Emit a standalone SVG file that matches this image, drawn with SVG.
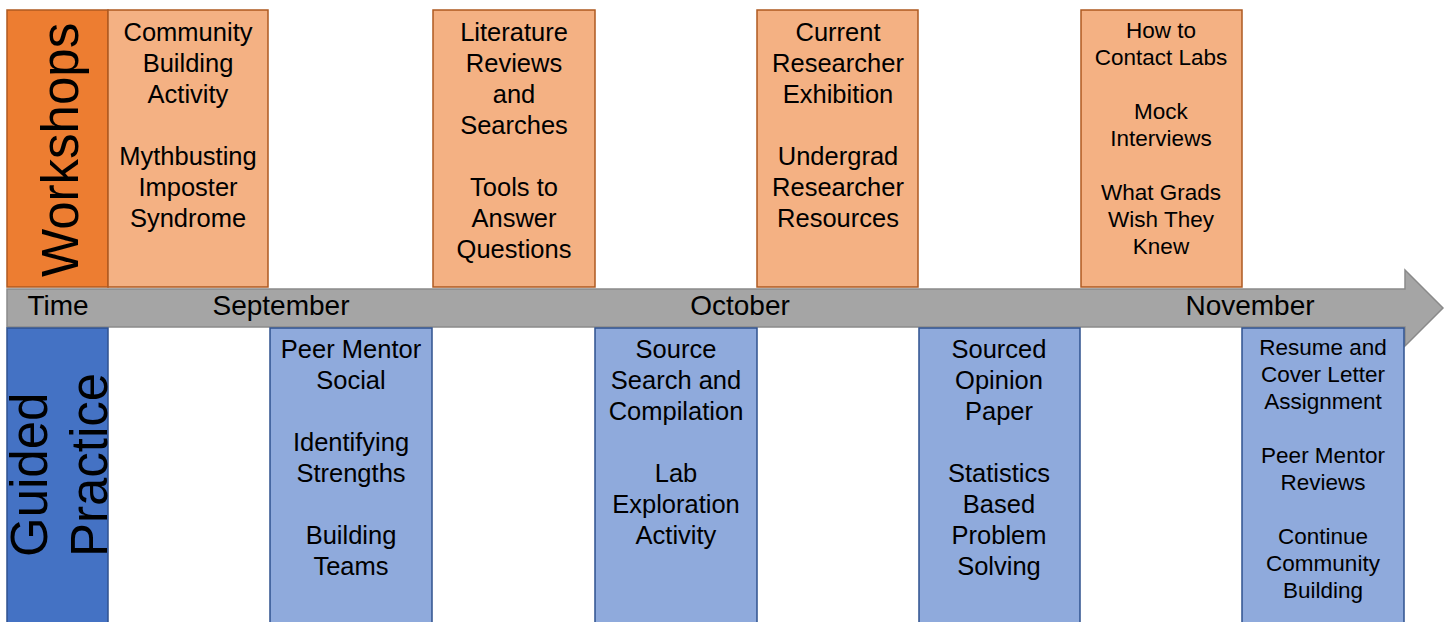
<svg xmlns="http://www.w3.org/2000/svg" width="1448" height="622" viewBox="0 0 1448 622">
  <style>
    .ws-head { fill: #ED7D31; stroke: #AE5A21; stroke-width: 1.5; }
    .ws { fill: #F4B183; stroke: #AE5A21; stroke-width: 1.5; }
    .gp-head { fill: #4472C4; stroke: #2F528F; stroke-width: 1.5; }
    .gp { fill: #8FAADC; stroke: #2F528F; stroke-width: 1.5; }
    .arrow { fill: #A5A5A5; stroke: #8A8A8A; stroke-width: 1.5; }
    text { font-family: "Liberation Sans", Arial, sans-serif; fill: #000; }
    .t { font-size: 25.5px; text-anchor: middle; }
    .s { font-size: 22.5px; text-anchor: middle; }
    .m { font-size: 28px; text-anchor: middle; }
    .big { font-size: 51px; }
  </style>
  <rect width="1448" height="622" fill="#FFFFFF"/>

  <!-- time axis -->
  <g id="connectors">
    <path class="arrow" d="M7,289 L1405,289 L1405,270 L1443,308 L1405,346 L1405,327 L7,327 Z"/>
    <text x="58" y="315" class="m">Time</text>
    <text x="281" y="315" class="m">September</text>
    <text x="740" y="315" class="m">October</text>
    <text x="1250" y="315" class="m">November</text>
  </g>

  <!-- workshops row -->
  <g id="workshops-label">
    <rect class="ws-head" x="7" y="10" width="101" height="277"/>
    <text class="big" transform="translate(78,277) rotate(-90)">Workshops</text>
  </g>
  <g id="ws-1">
    <rect class="ws" x="108" y="10" width="160" height="277"/>
    <text class="t" x="188" y="41">Community</text>
    <text class="t" x="188" y="72">Building</text>
    <text class="t" x="188" y="103">Activity</text>
    <text class="t" x="188" y="165">Mythbusting</text>
    <text class="t" x="188" y="196">Imposter</text>
    <text class="t" x="188" y="227">Syndrome</text>
  </g>
  <g id="ws-2">
    <rect class="ws" x="433" y="10" width="162" height="277"/>
    <text class="t" x="514" y="41">Literature</text>
    <text class="t" x="514" y="72">Reviews</text>
    <text class="t" x="514" y="103">and</text>
    <text class="t" x="514" y="134">Searches</text>
    <text class="t" x="514" y="196">Tools to</text>
    <text class="t" x="514" y="227">Answer</text>
    <text class="t" x="514" y="258">Questions</text>
  </g>
  <g id="ws-3">
    <rect class="ws" x="757" y="10" width="161" height="277"/>
    <text class="t" x="838" y="41">Current</text>
    <text class="t" x="838" y="72">Researcher</text>
    <text class="t" x="838" y="103">Exhibition</text>
    <text class="t" x="838" y="165">Undergrad</text>
    <text class="t" x="838" y="196">Researcher</text>
    <text class="t" x="838" y="227">Resources</text>
  </g>
  <g id="ws-4">
    <rect class="ws" x="1081" y="10" width="161" height="277"/>
    <text class="s" x="1161" y="38">How to</text>
    <text class="s" x="1161" y="65">Contact Labs</text>
    <text class="s" x="1161" y="119">Mock</text>
    <text class="s" x="1161" y="146">Interviews</text>
    <text class="s" x="1161" y="200">What Grads</text>
    <text class="s" x="1161" y="227">Wish They</text>
    <text class="s" x="1161" y="254">Knew</text>
  </g>

  <!-- guided practice row -->
  <g id="guided-label">
    <rect class="gp-head" x="7" y="328" width="101" height="300"/>
    <text class="big" transform="translate(47,557) rotate(-90)">Guided</text>
    <text class="big" transform="translate(107,557) rotate(-90)">Practice</text>
  </g>
  <g id="gp-1">
    <rect class="gp" x="270" y="328" width="162" height="300"/>
    <text class="t" x="351" y="358">Peer Mentor</text>
    <text class="t" x="351" y="389">Social</text>
    <text class="t" x="351" y="451">Identifying</text>
    <text class="t" x="351" y="482">Strengths</text>
    <text class="t" x="351" y="544">Building</text>
    <text class="t" x="351" y="575">Teams</text>
  </g>
  <g id="gp-2">
    <rect class="gp" x="595" y="328" width="162" height="300"/>
    <text class="t" x="676" y="358">Source</text>
    <text class="t" x="676" y="389">Search and</text>
    <text class="t" x="676" y="420">Compilation</text>
    <text class="t" x="676" y="482">Lab</text>
    <text class="t" x="676" y="513">Exploration</text>
    <text class="t" x="676" y="544">Activity</text>
  </g>
  <g id="gp-3">
    <rect class="gp" x="919" y="328" width="161" height="300"/>
    <text class="t" x="999" y="358">Sourced</text>
    <text class="t" x="999" y="389">Opinion</text>
    <text class="t" x="999" y="420">Paper</text>
    <text class="t" x="999" y="482">Statistics</text>
    <text class="t" x="999" y="513">Based</text>
    <text class="t" x="999" y="544">Problem</text>
    <text class="t" x="999" y="575">Solving</text>
  </g>
  <g id="gp-4">
    <rect class="gp" x="1242" y="328" width="162" height="300"/>
    <text class="s" x="1323" y="355">Resume and</text>
    <text class="s" x="1323" y="382">Cover Letter</text>
    <text class="s" x="1323" y="409">Assignment</text>
    <text class="s" x="1323" y="463">Peer Mentor</text>
    <text class="s" x="1323" y="490">Reviews</text>
    <text class="s" x="1323" y="544">Continue</text>
    <text class="s" x="1323" y="571">Community</text>
    <text class="s" x="1323" y="598">Building</text>
  </g>
</svg>
